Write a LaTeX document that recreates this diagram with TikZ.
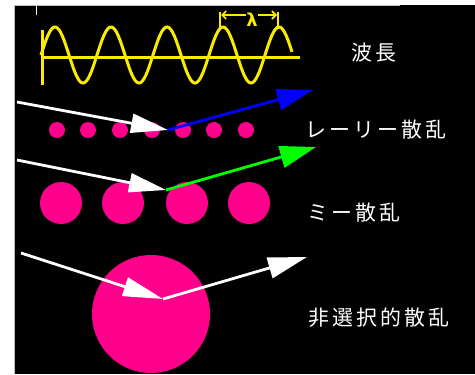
\documentclass[tikz,border=0pt]{standalone}
\usepackage{fontspec}
\newfontfamily\jp[LetterSpace=15]{Noto Sans CJK JP}
\newfontfamily\greekfont{DejaVu Sans}
\usetikzlibrary{arrows.meta}
\definecolor{dotpink}{RGB}{255,0,140}
\definecolor{waveyellow}{RGB}{250,235,0}
\definecolor{rayblue}{RGB}{0,0,255}
\definecolor{raygreen}{RGB}{0,255,0}
\tikzset{
  dot/.style={circle,fill=dotpink,inner sep=0pt,minimum size=#1},
  label/.style={text=white,font=\jp\fontsize{21}{21}\selectfont,inner sep=0pt},
  inray/.style={draw=white,line width=2.8bp,-{Triangle[length=37bp,width=19bp]}},
  outray/.style={line width=2.8bp,-{Triangle[length=36bp,width=20bp]}},
  wave/.style={draw=waveyellow,line width=3bp},
}
\begin{document}
\begin{tikzpicture}[x=1bp,y=-1bp]
\useasboundingbox (0,0) rectangle (475,374);
\fill[white] (0,0) rectangle (475,374);
\fill[black] (14,5) rectangle (475,374);
\draw[gray!50,line width=1bp] (14,374) -- (14,5) -- (400,5);
\draw[white,line width=1bp] (36,5) -- (36,15);
% wave
\draw[wave] (41,57) -- (300,57);
\draw[wave] (42,30) -- (42,85);
\draw[wave] plot[domain=41:292,samples=200,smooth] (\x,{55-28*sin(6.42857*(\x-41))});
\draw[waveyellow,line width=1.8bp] (220,12) -- (220,29);
\draw[waveyellow,line width=1.8bp] (278,12) -- (278,29);
\node[text=waveyellow,font=\greekfont\bfseries\fontsize{18}{18}\selectfont,inner sep=0pt] (lam) at (252,20) {λ};
\coordinate (lamL) at (221,15);
\coordinate (lamR) at (277,15);
\draw[waveyellow,line width=1.6bp,-{Straight Barb[length=4bp,width=8bp]}] (lam.west|-lamL) -- (lamL);
\draw[waveyellow,line width=1.6bp,-{Straight Barb[length=4bp,width=8bp]}] (lam.east|-lamR) -- (lamR);
% row 1: small dots
\foreach \i/\x in {1/57,2/88,3/120,4/152,5/183,6/214,7/246}
  \node[dot=16bp] (a\i) at (\x,130) {};
% row 2: medium dots
\foreach \i/\x in {1/61,2/123,3/187,4/249}
  \node[dot=42bp] (b\i) at (\x,203) {};
% row 3: large particle
\node[dot=118bp] (c1) at (151,314) {};
% rays
\coordinate (in1) at (17,102);
\coordinate (s1) at (168,130);
\coordinate (out1) at (313,90);
\coordinate (in2) at (17,160);
\coordinate (s2) at (166,190);
\coordinate (out2) at (316,147);
\coordinate (in3) at (21,253);
\coordinate (s3) at (163,299);
\coordinate (out3) at (307,257);
\draw[inray] (in1) -- (s1);
\draw[outray,draw=rayblue,-{Triangle[length=36bp,width=21bp,fill=rayblue]}] (s1) -- (out1);
\draw[inray] (in2) -- (s2);
\draw[outray,draw=raygreen,-{Triangle[length=36bp,width=22bp,fill=raygreen]}] (s2) -- (out2);
\draw[inray,-{Triangle[length=40bp,width=19bp]}] (in3) -- (s3);
\draw[outray,draw=white,-{Triangle[length=39bp,width=21bp]}] (s3) -- (out3);
% labels
\node[label] (t1) at (374,53) {波長};
\node[label] (t2) at (376,130) {レーリー散乱};
\node[label] (t3) at (354,213) {ミー散乱};
\node[label] (t4) at (379,318) {非選択的散乱};
\end{tikzpicture}
\end{document}
